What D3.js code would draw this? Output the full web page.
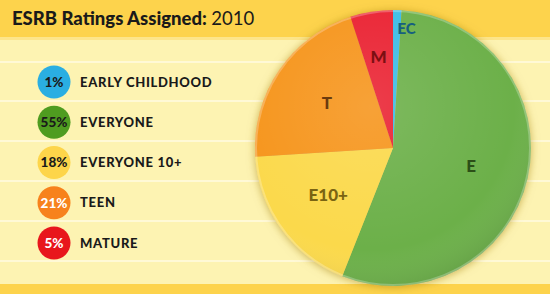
<!DOCTYPE html>
<html>
<head>
<meta charset="utf-8">
<script src="https://cdnjs.cloudflare.com/ajax/libs/d3/7.8.5/d3.min.js"></script>
<style>
body{margin:0;padding:0;background:#fdf3b2;}
svg{display:block;}
</style>
</head>
<body>
<div id="plot"></div>
<script>
// ESRB ratings 2010

var codes = ['EC','E','E10+','T','M'];
var names = ['EARLY CHILDHOOD','EVERYONE','EVERYONE 10+','TEEN','MATURE'];
var shares = [1,55,18,21,5];
var sliceColors = ['#3dbde6','#6cb049','#fbd94c','#f6951f','#ea2130'];
var dotColors = ['#2aaee2','#4f9c20','#fdd54a','#f7821c','#e8161c'];
var labelColors = ['#17607e','#2c4f17','#7a6412','#6a3a0e','#7c0f12'];
var pctColors = ['#1a1a1a','#1a1a1a','#1a1a1a','#ffffff','#ffffff'];

var W = 550, H = 294;

var svg = d3.select('#plot')
	.append('svg')
	.attr('width',W)
	.attr('height',H);

var defs = svg.append('defs');

var shadow = defs.append('filter').attr('id','shadow')
	.attr('x','-20%').attr('y','-20%').attr('width','140%').attr('height','140%');
shadow.append('feDropShadow')
	.attr('dx',0).attr('dy',1)
	.attr('stdDeviation',4)
	.attr('flood-color','#a07a10')
	.attr('flood-opacity',0.55);

var shine = defs.append('radialGradient').attr('id','shine')
	.attr('cx','42%').attr('cy','35%').attr('r','72%');
shine.append('stop').attr('offset','0%').attr('stop-color','#ffffff').attr('stop-opacity',0.12);
shine.append('stop').attr('offset','72%').attr('stop-color','#ffffff').attr('stop-opacity',0);
shine.append('stop').attr('offset','100%').attr('stop-color','#000000').attr('stop-opacity',0.14);

// background
svg.append('rect').attr('width',W).attr('height',H).attr('fill','#fdf3b2');

var rowLines = [62,101,141,181,221,261];
svg.selectAll('.rowline')
	.data(rowLines)
	.enter()
	.append('rect')
	.attr('class','rowline')
	.attr('x',0).attr('width',W)
	.attr('y',function(d){return d-1})
	.attr('height',2)
	.attr('fill','#fff9d6');

svg.append('rect').attr('x',0).attr('y',0).attr('width',W).attr('height',37).attr('fill','#fdd34c');
svg.append('rect').attr('x',0).attr('y',37).attr('width',W).attr('height',3).attr('fill','#fde58a');
svg.append('rect').attr('x',0).attr('y',284).attr('width',W).attr('height',10).attr('fill','#fdd34c');

// title
var title = svg.append('text')
	.attr('x',12).attr('y',25)
	.attr('font-family','Lato, "DejaVu Sans", sans-serif')
	.attr('font-size',18.5)
	.attr('fill','#1a1a1a');
title.append('tspan').attr('font-weight',900).text('ESRB Ratings Assigned: ');
title.append('tspan').attr('font-weight',400).text('2010');

// legend
var scaleRow = d3.scalePoint().domain(codes).range([82,243]);

var legend = svg.selectAll('.leg')
	.data(codes)
	.enter()
	.append('g')
	.attr('class','leg')
	.attr('transform',function(d){return 'translate(54,'+scaleRow(d)+')'});

legend.append('circle')
	.attr('r',16.5)
	.attr('fill',function(d,i){return dotColors[i]});

legend.append('text')
	.attr('text-anchor','middle')
	.attr('dy','0.36em')
	.attr('font-family','Lato, "DejaVu Sans", sans-serif')
	.attr('font-weight',900)
	.attr('font-size',13.5)
	.attr('fill',function(d,i){return pctColors[i]})
	.text(function(d,i){return shares[i]+'%'});

legend.append('text')
	.attr('x',26)
	.attr('dy','0.36em')
	.attr('font-family','Lato, "DejaVu Sans", sans-serif')
	.attr('font-weight',900)
	.attr('font-size',13)
	.attr('letter-spacing',0.7)
	.attr('fill','#1a1a1a')
	.text(function(d,i){return names[i]});

// pie
var cx = 393, cy = 148, R = 138;

var pie = d3.pie().sort(null).value(function(d){return d.v});
var arc = d3.arc().innerRadius(0).outerRadius(R);

var rows = codes.map(function(c,i){return {code:c, v:shares[i], i:i}});
var arcs = pie(rows);

var pieG = svg.append('g')
	.attr('transform','translate('+cx+','+cy+')');

var slices = pieG.append('g').attr('filter','url(#shadow)');
slices.selectAll('path')
	.data(arcs)
	.enter()
	.append('path')
	.attr('d',arc)
	.attr('fill',function(d){return sliceColors[d.data.i]});

pieG.append('circle').attr('r',R).attr('fill','url(#shine)');
pieG.append('circle').attr('r',R-1).attr('fill','none')
	.attr('stroke','#ffffff').attr('stroke-opacity',0.25).attr('stroke-width',2);

// label radius factor per slice
var labelR = [0.87,0.58,0.58,0.58,0.67];
pieG.selectAll('.plabel')
	.data(arcs)
	.enter()
	.append('text')
	.attr('class','plabel')
	.attr('transform',function(d){
		var a = (d.startAngle+d.endAngle)/2;
		var r = R*labelR[d.data.i];
		if(d.data.i===0){ a = d.endAngle+0.05; }
		return 'translate('+(Math.sin(a)*r)+','+(-Math.cos(a)*r)+')';
	})
	.attr('text-anchor','middle')
	.attr('dy','0.36em')
	.attr('font-family','Lato, "DejaVu Sans", sans-serif')
	.attr('font-weight',900)
	.attr('font-size',function(d){return d.data.i===0 ? 15 : 17})
	.attr('fill',function(d){return labelColors[d.data.i]})
	.text(function(d){return d.data.code});
</script>
</body>
</html>
